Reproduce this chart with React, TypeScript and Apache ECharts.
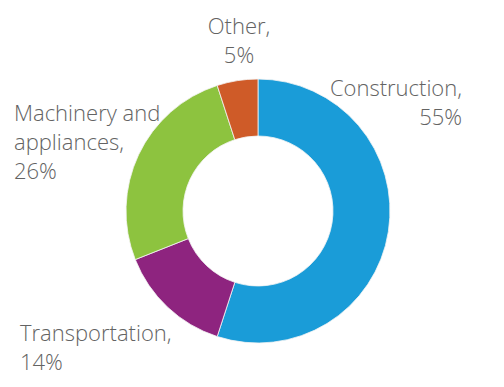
import React, { useEffect, useRef } from "react";
import * as echarts from "echarts";

const categories = ["Construction", "Transportation", "Machinery and\nappliances", "Other"];
const values = [55, 14, 26, 5];
const colors = ["#1a9cd8", "#8e247f", "#8dc33f", "#cf5b28"];

// label placement per slice: [x, y, align]
const labelSpots: [number, number, string][] = [
  [462, 72, "right"],
  [20, 317, "left"],
  [14, 97, "left"],
  [239, 10, "center"],
];

export default function App() {
  const ref = useRef<HTMLDivElement>(null);
  useEffect(() => {
    if (!ref.current) return;
    const chart = echarts.init(ref.current, null, { renderer: "svg" });
    chart.setOption({
      animation: false,
      backgroundColor: "#ffffff",
      series: [
        {
          type: "pie",
          center: [258, 211],
          radius: [75, 132],
          startAngle: 90,
          clockwise: true,
          avoidLabelOverlap: false,
          itemStyle: { borderColor: "#f4f4f4", borderWidth: 0.8 },
          label: {
            show: true,
            formatter: (p: any) => `${p.name},\n${p.value}%`,
            fontFamily: "Open Sans",
            fontWeight: 300,
            fontSize: 22,
            lineHeight: 29,
            color: "#636363",
          },
          labelLine: { show: false },
          labelLayout: (params: any) => {
            const s = labelSpots[params.dataIndex];
            return { x: s[0], y: s[1], align: s[2], verticalAlign: "top" };
          },
          emphasis: { disabled: true },
          data: categories.map((c, i) => ({
            name: c,
            value: values[i],
            itemStyle: { color: colors[i] },
          })),
        },
      ],
    });
    return () => chart.dispose();
  }, []);
  return (
    <div
      ref={ref}
      style={{ position: "absolute", left: 0, top: 0, width: 504, height: 387 }}
    />
  );
}
